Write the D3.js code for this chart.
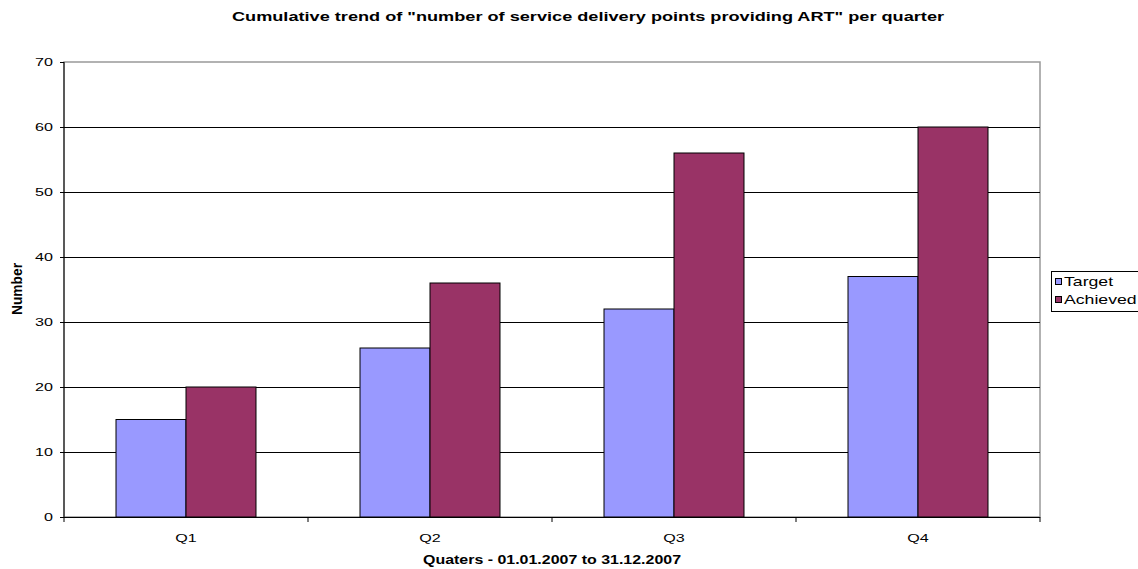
<!DOCTYPE html>
<html><head><meta charset="utf-8">
<script src="https://cdn.jsdelivr.net/npm/d3@7"></script>
<style>body{margin:0;background:#fff;} svg{display:block;font-family:"Liberation Sans",Arial,sans-serif;}</style>
</head><body><svg id="c" width="1138" height="569"></svg>
<script>
const categories = ["Q1","Q2","Q3","Q4"];
const seriesNames = ["Target","Achieved"];
const target = [15,26,32,37];
const achieved = [20,36,56,60];
const yTicks = [0,10,20,30,40,50,60,70];
const colors = ["#9999FF","#993366"];

const svg = d3.select("#c");
const L=64,R=1040,T=62,B=517;
const SX = 1.4;
const x = d3.scaleBand().domain(categories).range([L,R]);
const xs = d3.scaleBand().domain(seriesNames).range([0,x.bandwidth()]).paddingInner(0).paddingOuter(0.743);
const y = d3.scaleLinear().domain([0,70]).range([B,T]);

function stext(parent, px, py, str, opts){
  const g = parent.append("g").attr("transform",`translate(${px},${py}) scale(${opts.sx||SX},1)`);
  const t = g.append("text").attr("x",0).attr("y",0).attr("text-anchor",opts.anchor||"start")
    .attr("font-size",opts.size||11).attr("fill","#000").text(str);
  if(opts.bold) t.attr("font-weight","bold");
  return t;
}

// frame
svg.append("rect").attr("x",L).attr("y",T).attr("width",R-L).attr("height",B-T).attr("fill","#fff").attr("stroke","#999").attr("stroke-width",1.5);
// gridlines
svg.append("g").selectAll("line").data(yTicks.filter(d=>d>0&&d<70)).join("line")
 .attr("x1",L).attr("x2",R).attr("y1",d=>Math.round(y(d))+0.5).attr("y2",d=>Math.round(y(d))+0.5).attr("stroke","#000").attr("stroke-width",1);

const data = categories.map((c,i)=>({c,vals:[target[i],achieved[i]]}));
const g = svg.append("g");
data.forEach(d=>{
  d.vals.forEach((v,j)=>{
    g.append("rect").attr("x",x(d.c)+xs(seriesNames[j])).attr("y",y(v)).attr("width",xs.bandwidth()).attr("height",B-y(v))
     .attr("fill",colors[j]).attr("stroke","#000").attr("stroke-width",1);
  });
});

// y axis
const ya = svg.append("g").attr("transform",`translate(${L},0)`).call(d3.axisLeft(y).tickValues(yTicks).tickSize(4).tickFormat(""));
ya.select(".domain").attr("stroke","#000").attr("d",`M0,${T}V${B}`);
yTicks.forEach(v=>stext(svg, L-11, y(v)+4, String(v), {anchor:"end", size:11.5}));
// x axis
const xa = svg.append("g").attr("transform",`translate(0,${B})`);
xa.append("line").attr("x1",L).attr("x2",R).attr("y1",0.5).attr("y2",0.5).attr("stroke","#000");
const bounds = categories.map(c=>x(c)).concat([R]);
xa.selectAll("line.t").data(bounds).join("line").attr("class","t").attr("x1",d=>d).attr("x2",d=>d).attr("y1",0).attr("y2",5).attr("stroke","#000");
categories.forEach(c=>stext(svg, x(c)+x.bandwidth()/2, B+25, c, {anchor:"middle", size:11.5}));

// titles
stext(svg, 588, 21, 'Cumulative trend of "number of service delivery points providing ART" per quarter', {anchor:"middle", size:13.5, bold:true, sx:1.345});
stext(svg, 552, 564, "Quaters - 01.01.2007 to 31.12.2007", {anchor:"middle", size:12, bold:true, sx:1.33});
svg.append("text").attr("transform","translate(22,289) scale(1.2,1) rotate(-90)").attr("text-anchor","middle")
  .attr("font-size",12).attr("font-weight","bold").attr("textLength",52).attr("lengthAdjust","spacingAndGlyphs").text("Number");

// legend
const lg = svg.append("g");
lg.append("rect").attr("x",1051.5).attr("y",271.5).attr("width",90).attr("height",40).attr("fill","#fff").attr("stroke","#000");
seriesNames.forEach((s,i)=>{
  lg.append("rect").attr("x",1055.5).attr("y",278.5+i*18).attr("width",6).attr("height",6).attr("fill",colors[i]).attr("stroke","#000");
  stext(lg, 1064, 286+i*18, s, {size:13, sx:1.36});
});
</script></body></html>
